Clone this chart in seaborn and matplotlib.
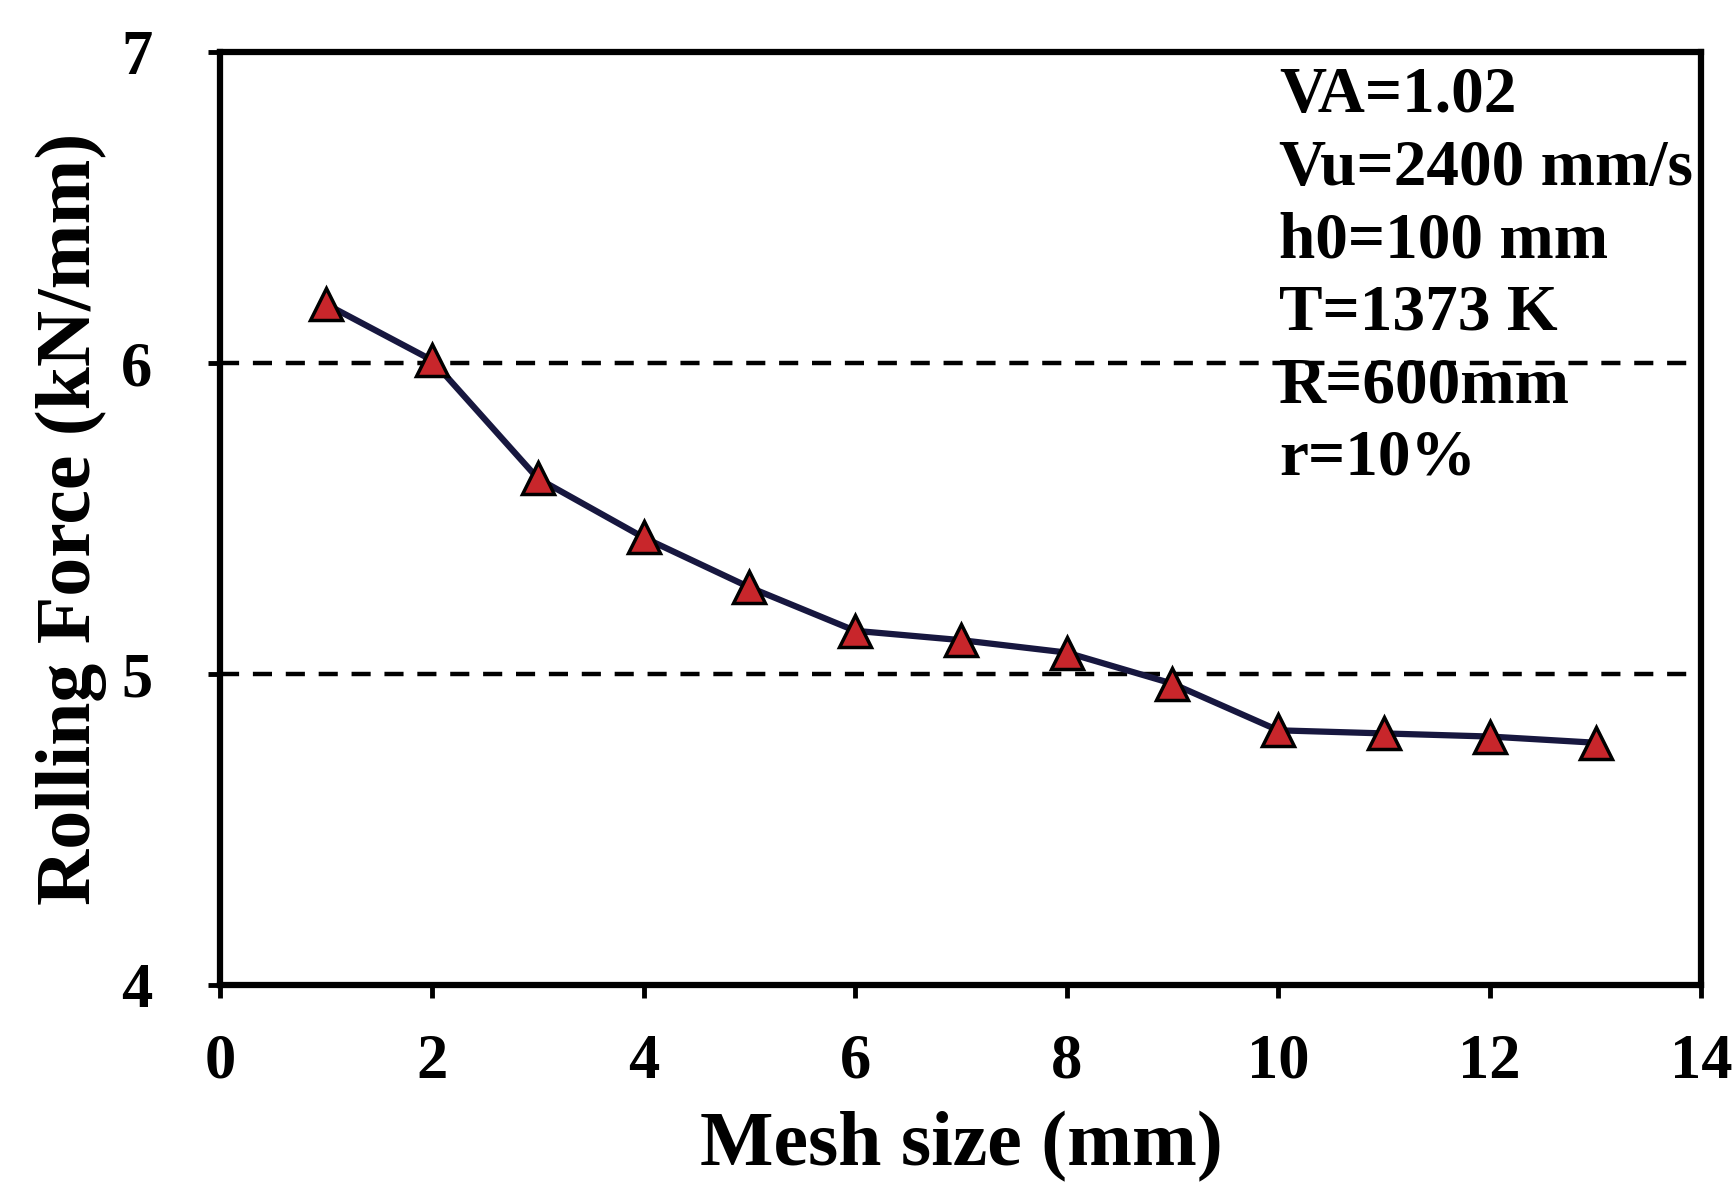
import matplotlib
matplotlib.use("Agg")
import matplotlib.pyplot as plt
import seaborn as sns
import pandas as pd

# Rolling force versus mesh size
mesh_size = [1, 2, 3, 4, 5, 6, 7, 8, 9, 10, 11, 12, 13]
rolling_force = [6.19, 6.01, 5.63, 5.44, 5.28, 5.14, 5.11, 5.07, 4.97, 4.82, 4.81, 4.80, 4.78]

x_ticks = [0, 2, 4, 6, 8, 10, 12, 14]
y_ticks = [4, 5, 6, 7]
grid_levels = [5, 6]

params = ["VA=1.02", "Vu=2400 mm/s", "h0=100 mm", "T=1373 K", "R=600mm", "r=10%"]

df = pd.DataFrame({"mesh": mesh_size, "force": rolling_force})

sns.set_theme(style="white")
plt.rcParams["font.family"] = ["Liberation Serif", "DejaVu Serif"]
plt.rcParams["font.weight"] = "bold"
for key in ["text.color", "axes.labelcolor", "xtick.color", "ytick.color"]:
    plt.rcParams[key] = "black"

fig = plt.figure(figsize=(17.36, 11.90), dpi=100)
ax = fig.add_axes([0.127, 0.172, 0.853, 0.784])

# dashed reference levels
for lvl in grid_levels:
    ax.axhline(lvl, color="black", lw=3.2, ls=(0, (4.3, 3.1)), zorder=1)

sns.lineplot(data=df, x="mesh", y="force", ax=ax, color="#17173f", lw=4.5,
             marker="^", markersize=23, markerfacecolor="#c8262b",
             markeredgecolor="black", markeredgewidth=2.5, zorder=3)

ax.set_xlim(0, 14)
ax.set_ylim(4, 7)
ax.set_xticks(x_ticks)
ax.set_yticks(y_ticks)
ax.tick_params(axis="both", direction="out", length=9, width=3.5, labelsize=45,
               colors="black", bottom=True, left=True)
ax.tick_params(axis="x", pad=26)
ax.tick_params(axis="y", pad=40)
for lab in ax.get_xticklabels() + ax.get_yticklabels():
    lab.set_fontweight("bold")

for side in ["left", "right", "top", "bottom"]:
    ax.spines[side].set_color("black")
    ax.spines[side].set_linewidth(4.5)

ax.set_xlabel("Mesh size (mm)", fontsize=56, fontweight="bold", labelpad=14)
ax.set_ylabel("Rolling Force (kN/mm)", fontsize=56, fontweight="bold", labelpad=10)

ax.text(0.715, 0.985, "\n".join(params), transform=ax.transAxes, ha="left", va="top",
        fontsize=47, fontweight="bold", linespacing=1.27)

fig.savefig("out.png", dpi=100, facecolor="white")
